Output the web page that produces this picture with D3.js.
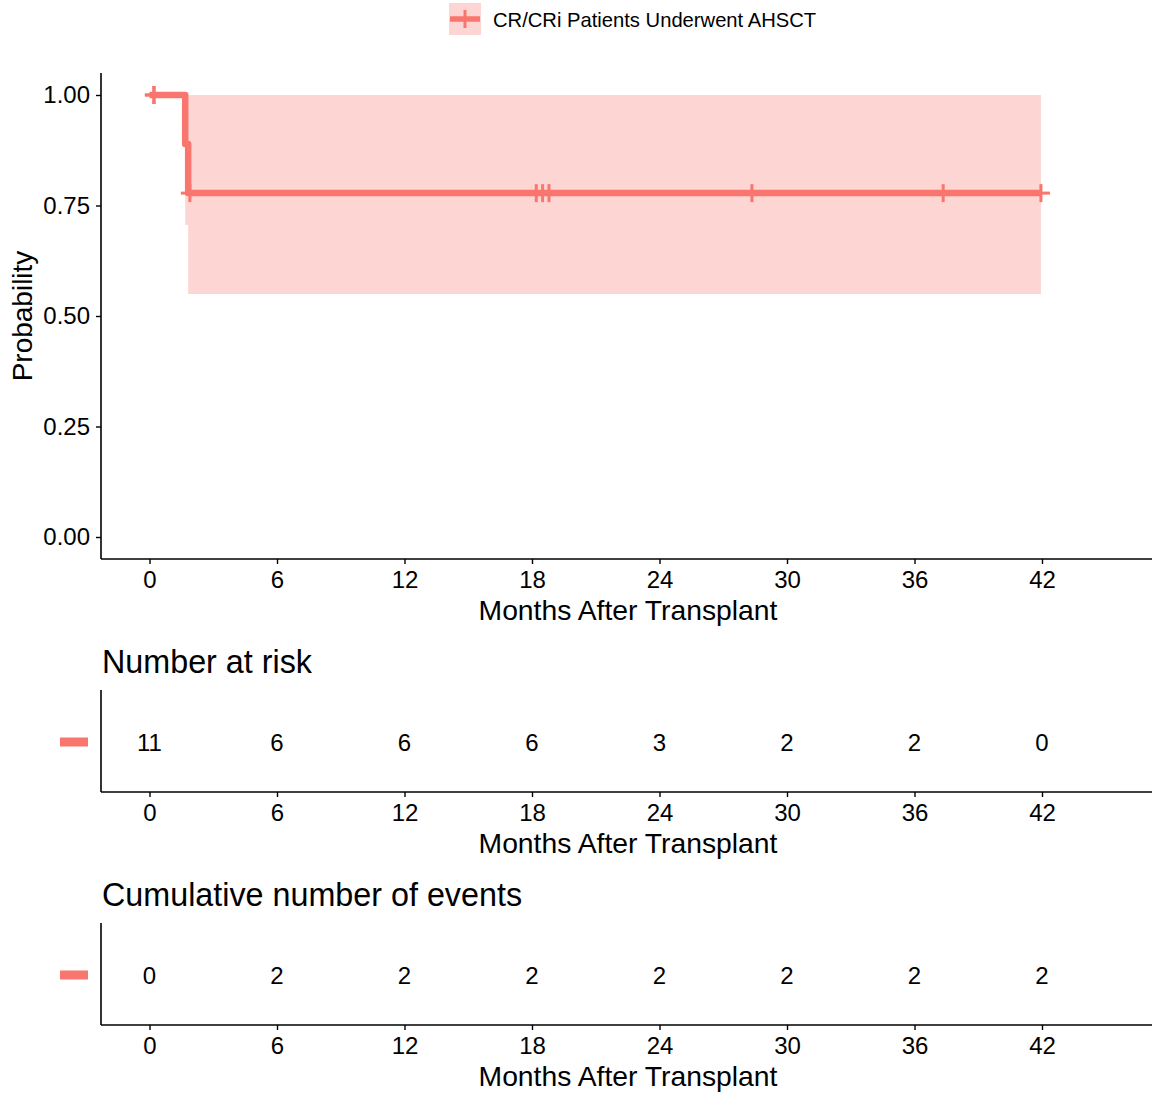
<!DOCTYPE html>
<html>
<head>
<meta charset="utf-8">
<script src="https://cdn.jsdelivr.net/npm/d3@7"></script>
<style>
  html, body { margin: 0; padding: 0; background: #fff; }
  svg { display: block; font-family: "Liberation Sans", Arial, Helvetica, sans-serif; }
</style>
</head>
<body>
<script>
// ---- data ----
const seriesName = "CR/CRi Patients Underwent AHSCT";
const timeTicks = [0, 6, 12, 18, 24, 30, 36, 42];
const probTicks = [0, 0.25, 0.5, 0.75, 1.0];
const stepTimes = [0, 1.68, 1.82];
const survival = [1.0, 0.889, 0.778];
const ciUpper = [1.0, 1.0, 1.0];
const ciLower = [1.0, 0.706, 0.55];
const lastTime = 41.95;
const censorTimes = [0.2, 0.22, 1.9, 18.2, 18.5, 18.8, 28.35, 37.35, 41.95];
const atRisk = [11, 6, 6, 6, 3, 2, 2, 0];
const cumEvents = [0, 2, 2, 2, 2, 2, 2, 2];

// ---- drawing ----
const W = 1152, H = 1097;
const red = "#F8766D", pink = "#FDD6D3";
const svg = d3.select("body").append("svg").attr("width", W).attr("height", H);

const x = d3.scaleLinear().domain([0, 42]).range([149.5, 1042]);
const y = d3.scaleLinear().domain([0, 1]).range([537, 95]);
const axisLeftX = 101, axisRightX = 1152;

function survAt(t) {
  let s = survival[0];
  for (let i = 0; i < stepTimes.length; i++) if (stepTimes[i] <= t) s = survival[i];
  return s;
}

// step data with end point
const stepData = stepTimes.map((t, i) => ({ t, s: survival[i], u: ciUpper[i], l: ciLower[i] }));
stepData.push({ t: lastTime, s: survival[survival.length - 1], u: ciUpper[ciUpper.length - 1], l: ciLower[ciLower.length - 1] });

// CI band
const area = d3.area().curve(d3.curveStepAfter)
  .x(d => x(d.t)).y0(d => y(d.l)).y1(d => y(d.u));
svg.append("path").datum(stepData).attr("d", area).attr("fill", pink);

// survival line
const line = d3.line().curve(d3.curveStepAfter).x(d => x(d.t)).y(d => y(d.s));
svg.append("path").datum(stepData).attr("d", line)
  .attr("fill", "none").attr("stroke", red).attr("stroke-width", 6.5)
  .attr("stroke-linejoin", "round");

// censor marks
const cg = svg.append("g");
censorTimes.forEach(t => {
  const cx = x(t), cy = y(survAt(t));
  cg.append("line").attr("x1", cx - 9).attr("x2", cx + 9).attr("y1", cy).attr("y2", cy)
    .attr("stroke", red).attr("stroke-width", 3);
  cg.append("line").attr("x1", cx).attr("x2", cx).attr("y1", cy - 9).attr("y2", cy + 9)
    .attr("stroke", red).attr("stroke-width", 3);
});

// axes (main)
function xAxis(axisY, tickLabelY) {
  const g = svg.append("g").attr("transform", `translate(0,${axisY})`);
  g.call(d3.axisBottom(x).tickValues(timeTicks).tickSize(5).tickSizeOuter(0).tickPadding(0));
  g.select(".domain").remove();
  g.selectAll(".tick line").attr("stroke", "#000").attr("stroke-width", 1.4);
  g.selectAll(".tick text").attr("fill", "#000").attr("font-size", 24)
    .attr("dy", null).attr("y", tickLabelY - axisY).attr("font-family", "Liberation Sans, Arial, sans-serif");
  svg.append("line").attr("x1", axisLeftX).attr("x2", axisRightX).attr("y1", axisY).attr("y2", axisY)
    .attr("stroke", "#000").attr("stroke-width", 1.6);
  svg.append("text").attr("x", 628).attr("y", tickLabelY + 32).attr("text-anchor", "middle")
    .attr("font-size", 28.3).attr("fill", "#000").text("Months After Transplant");
}

// y axis main
const yg = svg.append("g").attr("transform", `translate(${axisLeftX},0)`);
yg.call(d3.axisLeft(y).tickValues(probTicks).tickFormat(d3.format(".2f")).tickSize(5).tickSizeOuter(0).tickPadding(6));
yg.select(".domain").remove();
yg.selectAll(".tick line").attr("stroke", "#000").attr("stroke-width", 1.4);
yg.selectAll(".tick text").attr("fill", "#000").attr("font-size", 24)
  .attr("font-family", "Liberation Sans, Arial, sans-serif");
svg.append("line").attr("x1", axisLeftX).attr("x2", axisLeftX).attr("y1", 73).attr("y2", 559)
  .attr("stroke", "#000").attr("stroke-width", 1.6);
svg.append("text").attr("transform", "translate(32,316) rotate(-90)").attr("text-anchor", "middle")
  .attr("font-size", 28).attr("fill", "#000").text("Probability");
xAxis(559, 588);

// legend
const lg = svg.append("g");
lg.append("rect").attr("x", 449).attr("y", 3).attr("width", 32).attr("height", 32).attr("fill", pink);
lg.append("line").attr("x1", 450).attr("x2", 480).attr("y1", 19).attr("y2", 19)
  .attr("stroke", red).attr("stroke-width", 5.5);
lg.append("line").attr("x1", 465).attr("x2", 465).attr("y1", 10).attr("y2", 28)
  .attr("stroke", red).attr("stroke-width", 3);
lg.append("text").attr("x", 493).attr("y", 27).attr("font-size", 20.2).attr("fill", "#000").text(seriesName);

// tables
function table(title, values, top) {
  const axisY = top + 119;
  svg.append("text").attr("x", 102).attr("y", top).attr("font-size", 32.3).attr("fill", "#000").text(title);
  svg.append("line").attr("x1", axisLeftX).attr("x2", axisLeftX).attr("y1", top + 17).attr("y2", axisY)
    .attr("stroke", "#000").attr("stroke-width", 1.6);
  const rowY = top + 69;
  svg.append("rect").attr("x", 60).attr("y", rowY - 4.5).attr("width", 28).attr("height", 9).attr("fill", red);
  svg.append("g").selectAll("text").data(values).join("text")
    .attr("x", (d, i) => x(timeTicks[i])).attr("y", rowY + 9).attr("text-anchor", "middle")
    .attr("font-size", 24).attr("fill", "#000").text(d => d);
  xAxis(axisY, axisY + 29);
}
table("Number at risk", atRisk, 673);
table("Cumulative number of events", cumEvents, 906);
</script>
</body>
</html>
